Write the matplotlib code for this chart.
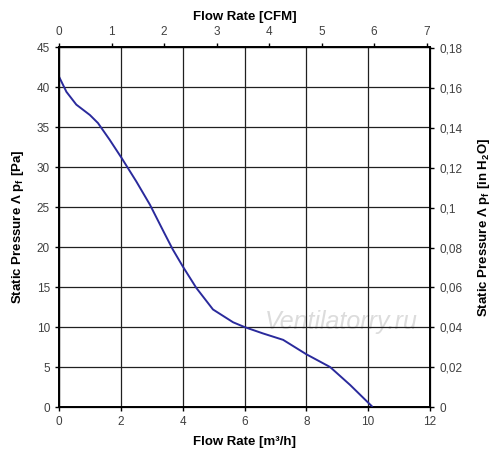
import numpy as np
import matplotlib
matplotlib.use("Agg")
import matplotlib.pyplot as plt

plt.rcParams['font.family'] = ['Liberation Sans', 'DejaVu Sans']

# curve: flow [m3/h] vs static pressure [Pa]
flow_m3h = [0, 0.24, 0.56, 1.0, 1.26, 1.64, 2.03, 2.5, 2.94, 3.4, 3.68, 4.0,
            4.44, 4.98, 5.63, 6.0, 6.6, 7.25, 8.0, 8.77, 9.42, 10.12]
pressure_pa = [41.3, 39.4, 37.8, 36.5, 35.5, 33.4, 31.1, 28.2, 25.3, 21.8, 19.7, 17.6,
               14.9, 12.2, 10.6, 10.0, 9.2, 8.4, 6.6, 5.0, 2.75, 0.1]

x_ticks = [0, 2, 4, 6, 8, 10, 12]
y_ticks = [0, 5, 10, 15, 20, 25, 30, 35, 40, 45]
cfm_ticks = [0, 1, 2, 3, 4, 5, 6, 7]
inh2o_ticks = [0, 0.02, 0.04, 0.06, 0.08, 0.1, 0.12, 0.14, 0.16, 0.18]

M3H_TO_CFM = 0.5886
PA_TO_INH2O = 1 / 249.09

fig = plt.figure(figsize=(5.0, 4.61), dpi=100)
ax = fig.add_axes([0.118, 0.117, 0.742, 0.781])

ax.plot(flow_m3h, pressure_pa, color='#2a2a9c', lw=1.4, zorder=3)
ax.set_xlim(0, 12)
ax.set_ylim(0, 45)
ax.set_xticks(x_ticks)
ax.set_yticks(y_ticks)
ax.grid(True, color='#202020', lw=0.9)
for s in ax.spines.values():
    s.set_linewidth(1.4)
tick_col = '#404040'
ax.tick_params(direction='out', length=3, width=1, labelsize=8.5, labelcolor=tick_col)
ax.set_xlabel('Flow Rate [m³/h]', fontsize=9.5, fontweight='bold', labelpad=6)
ax.set_ylabel('Static Pressure Λ p$_\\mathregular{f}$ [Pa]', fontsize=9.5,
              fontweight='bold', labelpad=8)

# top axis in CFM
axt = ax.twiny()
axt.set_xlim(0, 12 * M3H_TO_CFM)
axt.set_xticks(cfm_ticks)
axt.tick_params(direction='out', length=3, width=1, labelsize=8.5, labelcolor=tick_col)
axt.set_xlabel('Flow Rate [CFM]', fontsize=9.5, fontweight='bold', labelpad=4)

# right axis in inches of water
axr = ax.twinx()
axr.set_ylim(0, 45 * PA_TO_INH2O)
axr.set_yticks(inh2o_ticks)
axr.set_yticklabels([('%g' % t).replace('.', ',') for t in inh2o_ticks])
axr.tick_params(direction='out', length=3, width=1, labelsize=8.5, labelcolor=tick_col)
axr.set_ylabel('Static Pressure Λ p$_\\mathregular{f}$ [in H$_\\mathregular{2}$O]',
               fontsize=9.5, fontweight='bold', labelpad=10)

ax.text(0.76, 0.235, 'Ventilatorry.ru', transform=ax.transAxes, fontsize=18,
        style='italic', color='#dcdcdc', ha='center', va='center', zorder=1)

fig.savefig('out.png', dpi=100)
